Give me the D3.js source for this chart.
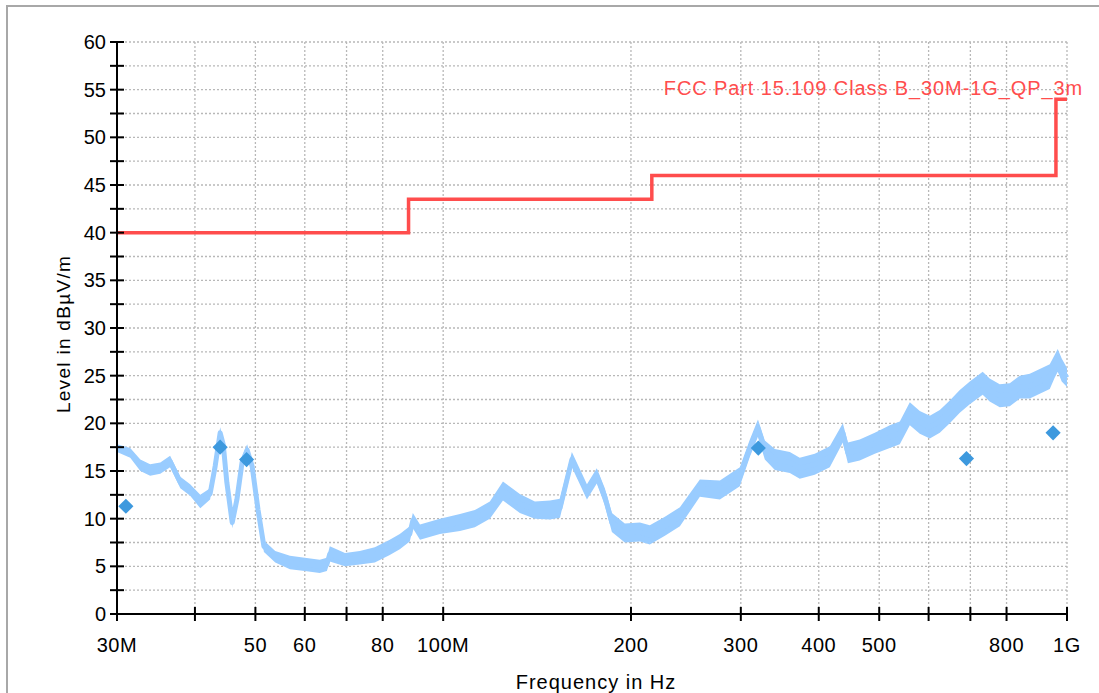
<!DOCTYPE html>
<html>
<head>
<meta charset="utf-8">
<script src="https://cdn.jsdelivr.net/npm/d3@7"></script>
<style>
	body { margin: 0; background: #fff; }
	svg { display: block; }
	text { font-family: "Liberation Sans", Arial, sans-serif; fill: #000; }
</style>
</head>
<body>
<div class="chart"></div>
<script>

// scan trace, MHz / dBuV/m (centre of the noisy band and its half height)
var traceFreq = [30, 31.5, 32.7, 33.9, 35.2, 36.5, 37.9, 39.3, 40.8, 42.3, 43.1, 43.9, 44.4, 45.0, 45.9, 46.7, 47.6, 48.5, 49.4, 50.5, 51.6, 53.8, 56.8, 60.0, 63.4, 65.1, 65.8, 69.6, 73.5, 77.7, 82.1, 85.2, 88.4, 89.4, 91.8, 98.8, 106.4, 112.4, 118.8, 124.7, 132.7, 140.3, 148.3, 153.9, 160.8, 165.6, 170.0, 176.3, 181.6, 186.4, 195.5, 206.7, 214.4, 226.7, 239.6, 257.9, 277.7, 298.9, 310.2, 319.6, 327.8, 340.2, 359.5, 372.9, 394.1, 416.6, 437.2, 445.4, 465.3, 491.9, 520, 539.5, 559.8, 580.8, 602.7, 625.3, 648.8, 673.2, 698.5, 732.6, 751.7, 780.2, 809.5, 840, 871.6, 904.4, 938.4, 955.9, 966.4, 980.7, 1000];
var traceLevel = [17.4, 16.9, 15.6, 15.1, 15.3, 16.0, 13.8, 13.0, 11.8, 12.6, 15.5, 19.0, 17.8, 13.8, 9.6, 12.0, 15.9, 17.2, 15.5, 10.9, 7.1, 6.0, 5.4, 5.2, 5.0, 5.2, 6.3, 5.7, 5.9, 6.2, 7.0, 7.6, 8.4, 9.8, 8.6, 9.2, 9.6, 10.0, 10.9, 12.9, 11.6, 10.9, 10.9, 11.1, 16.2, 14.4, 12.8, 14.5, 12.3, 9.6, 8.5, 8.6, 8.3, 9.2, 10.2, 13.2, 13.0, 14.4, 17.4, 19.5, 17.2, 16.2, 15.9, 15.3, 15.7, 16.5, 19.0, 16.9, 17.2, 17.9, 18.6, 19.0, 21.0, 20.1, 19.6, 20.2, 21.2, 22.3, 23.2, 24.2, 23.5, 22.9, 23.0, 23.8, 23.9, 24.4, 24.9, 26.0, 26.6, 25.6, 24.8];
var traceSpread = [0.4, 0.5, 0.6, 0.6, 0.6, 0.6, 0.6, 0.6, 0.7, 0.6, 0.6, 0.6, 0.6, 0.5, 0.6, 0.6, 0.6, 0.6, 0.5, 0.6, 0.6, 0.6, 0.7, 0.7, 0.7, 0.7, 0.8, 0.7, 0.7, 0.8, 0.8, 0.8, 0.8, 0.8, 0.8, 0.8, 0.9, 0.9, 0.9, 1.0, 1.0, 0.9, 1.0, 1.0, 0.8, 0.8, 0.8, 0.8, 0.9, 1.0, 1.0, 1.0, 1.0, 1.0, 1.0, 0.9, 1.0, 1.0, 0.9, 0.9, 1.0, 1.1, 1.1, 1.1, 1.1, 1.1, 1.0, 1.1, 1.1, 1.1, 1.2, 1.2, 1.2, 1.2, 1.2, 1.2, 1.2, 1.2, 1.2, 1.2, 1.2, 1.2, 1.2, 1.2, 1.3, 1.3, 1.3, 1.2, 1.2, 1.2, 1.0];

// quasi-peak finals
var peakFreq = [31.0, 43.9, 48.4, 320, 690, 950];
var peakLevel = [11.3, 17.5, 16.2, 17.4, 16.3, 19.0];

// FCC 15.109 class B, 3 m
var limitFreq = [30, 88, 88, 216, 216, 960, 960, 1000];
var limitLevel = [40, 40, 43.5, 43.5, 46, 46, 54, 54];
var limitName = "FCC Part 15.109 Class B_30M-1G_QP_3m";

var xTicks = [30, 40, 50, 60, 70, 80, 100, 200, 300, 400, 500, 600, 700, 800, 1000];
var xLabels = {30: "30M", 50: "50", 60: "60", 80: "80", 100: "100M", 200: "200", 300: "300", 400: "400", 500: "500", 800: "800", 1000: "1G"};
var yGrid = [2.5, 5, 7.5, 10, 12.5, 15, 17.5, 20, 22.5, 25, 27.5, 30, 32.5, 35, 37.5, 40, 42.5, 45, 47.5, 50, 52.5, 55, 57.5, 60];
var yLabels = [0, 5, 10, 15, 20, 25, 30, 35, 40, 45, 50, 55, 60];

var W = 1099, H = 693;
var plot = {left: 117, right: 1067, top: 42, bottom: 614};

var svg = d3.select(".chart")
	.append("svg")
	.attr("width", W)
	.attr("height", H);

// outer frame
svg.append("rect")
	.attr("x", 7)
	.attr("y", 6)
	.attr("width", W)
	.attr("height", H)
	.attr("fill", "#fff")
	.attr("stroke", "#a8a8a8")
	.attr("stroke-width", 2);

var xScale = d3.scaleLog()
	.domain([30, 1000])
	.range([plot.left, plot.right]);

var yScale = d3.scaleLinear()
	.domain([0, 60])
	.range([plot.bottom, plot.top]);

// grid
svg.selectAll(".vgrid")
	.data(xTicks.slice(1))
	.enter()
	.append("line")
	.attr("class", "vgrid")
	.attr("x1", function(d) { return xScale(d); })
	.attr("x2", function(d) { return xScale(d); })
	.attr("y1", plot.top)
	.attr("y2", plot.bottom)
	.attr("stroke", "#b8b8b8")
	.attr("stroke-width", 1.3)
	.attr("stroke-dasharray", "2,2");

svg.selectAll(".hgrid")
	.data(yGrid)
	.enter()
	.append("line")
	.attr("class", "hgrid")
	.attr("x1", plot.left)
	.attr("x2", plot.right)
	.attr("y1", function(d) { return yScale(d); })
	.attr("y2", function(d) { return yScale(d); })
	.attr("stroke", "#b8b8b8")
	.attr("stroke-width", 1.3)
	.attr("stroke-dasharray", "2,2");

// trace band
var trace = traceFreq.map(function(f, i) {
	return {f: f, lo: traceLevel[i] - traceSpread[i], hi: traceLevel[i] + traceSpread[i], v: traceLevel[i]};
});

svg.append("path")
	.datum(trace)
	.attr("fill", "#99ccff")
	.attr("d", d3.area()
		.x(function(d) { return xScale(d.f); })
		.y0(function(d) { return yScale(d.lo); })
		.y1(function(d) { return yScale(d.hi); }));

svg.append("path")
	.datum(trace)
	.attr("fill", "none")
	.attr("stroke", "#99ccff")
	.attr("stroke-width", 5)
	.attr("stroke-linejoin", "round")
	.attr("d", d3.line()
		.x(function(d) { return xScale(d.f); })
		.y(function(d) { return yScale(d.v); }));

// limit line
var limit = limitFreq.map(function(f, i) { return {f: f, v: limitLevel[i]}; });

svg.append("path")
	.datum(limit)
	.attr("fill", "none")
	.attr("stroke", "#ff4d4d")
	.attr("stroke-width", 3.5)
	.attr("d", d3.line()
		.x(function(d) { return xScale(d.f); })
		.y(function(d) { return yScale(d.v); }));

svg.append("text")
	.attr("x", 1083)
	.attr("y", 95)
	.attr("text-anchor", "end")
	.style("font-size", "20px")
	.style("letter-spacing", "0.9px")
	.style("fill", "#ff4d4d")
	.text(limitName);

// final markers
svg.selectAll(".peak")
	.data(peakFreq)
	.enter()
	.append("path")
	.attr("class", "peak")
	.attr("d", d3.symbol().type(d3.symbolSquare).size(115))
	.attr("transform", function(d, i) {
		return "translate(" + xScale(d) + "," + yScale(peakLevel[i]) + ") rotate(45)";
	})
	.attr("fill", "#3d99de");

// axes
svg.append("line")
	.attr("x1", plot.left)
	.attr("x2", plot.left)
	.attr("y1", plot.top)
	.attr("y2", plot.bottom)
	.attr("stroke", "#000")
	.attr("stroke-width", 2);

svg.append("line")
	.attr("x1", plot.left)
	.attr("x2", plot.right)
	.attr("y1", plot.bottom)
	.attr("y2", plot.bottom)
	.attr("stroke", "#000")
	.attr("stroke-width", 2);

svg.selectAll(".ytick")
	.data([0].concat(yGrid))
	.enter()
	.append("line")
	.attr("class", "ytick")
	.attr("x1", plot.left - 7)
	.attr("x2", plot.left + 7)
	.attr("y1", function(d) { return yScale(d); })
	.attr("y2", function(d) { return yScale(d); })
	.attr("stroke", "#000")
	.attr("stroke-width", 2);

svg.selectAll(".ylabel")
	.data(yLabels)
	.enter()
	.append("text")
	.attr("class", "ylabel")
	.attr("x", plot.left - 11)
	.attr("y", function(d) { return yScale(d) + 7; })
	.attr("text-anchor", "end")
	.style("font-size", "20px")
	.text(function(d) { return d; });

svg.selectAll(".xtick")
	.data(xTicks)
	.enter()
	.append("line")
	.attr("class", "xtick")
	.attr("x1", function(d) { return xScale(d); })
	.attr("x2", function(d) { return xScale(d); })
	.attr("y1", plot.bottom - 7)
	.attr("y2", plot.bottom + 7)
	.attr("stroke", "#000")
	.attr("stroke-width", 2);

svg.selectAll(".xlabel")
	.data(xTicks.filter(function(d) { return xLabels[d]; }))
	.enter()
	.append("text")
	.attr("class", "xlabel")
	.attr("x", function(d) { return xScale(d); })
	.attr("y", 652)
	.attr("text-anchor", "middle")
	.style("font-size", "20px")
	.style("letter-spacing", "0.6px")
	.text(function(d) { return xLabels[d]; });

svg.append("text")
	.attr("x", 596)
	.attr("y", 689)
	.attr("text-anchor", "middle")
	.style("font-size", "20px")
	.style("letter-spacing", "1px")
	.text("Frequency in Hz");

svg.append("text")
	.attr("transform", "translate(70,334) rotate(-90)")
	.attr("text-anchor", "middle")
	.style("font-size", "19px")
	.style("letter-spacing", "1.3px")
	.text("Level in dBµV/m");

</script>
</body>
</html>
